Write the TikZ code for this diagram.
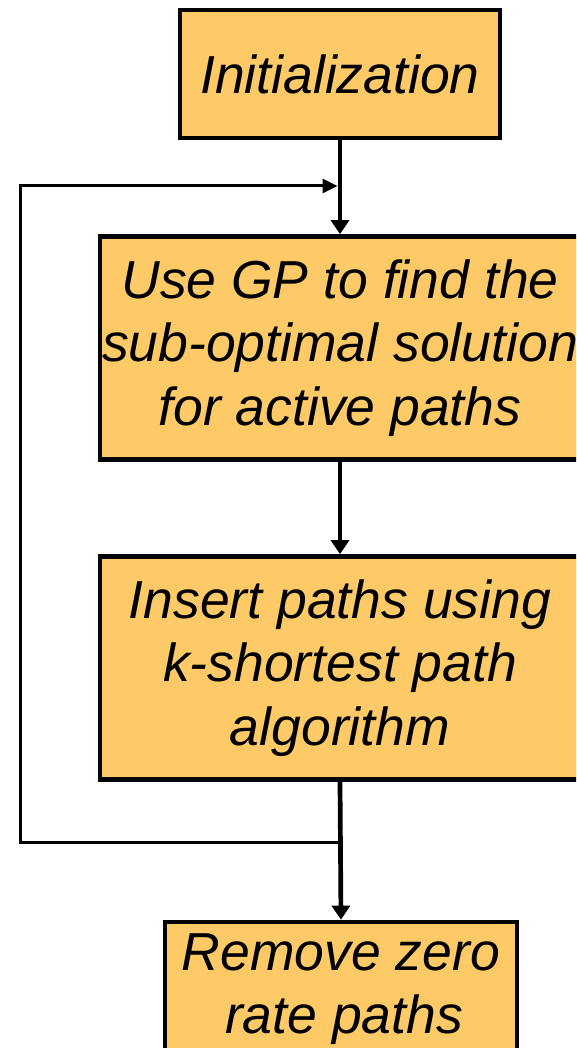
\documentclass[tikz,border=0pt]{standalone}
\usepackage{fontspec}
\setmainfont{Liberation Sans}
\usetikzlibrary{arrows.meta}
\definecolor{boxfill}{RGB}{254,202,104}
\tikzset{
  stepbox/.style={draw=black, line width=4.7pt, fill=boxfill, inner sep=0pt,
    align=center, font=\fontsize{53.5}{63.5}\selectfont\itshape},
  mainarrow/.style={line width=4.7pt, -{Triangle[length=14pt,width=18pt]}},
  backarrow/.style={line width=3pt, -{Triangle[length=15pt,width=14pt]}}
}
\begin{document}
\begin{tikzpicture}[x=1pt,y=-1pt]
\useasboundingbox (0,0) rectangle (576,1048);
\clip (0,0) rectangle (576,1048);
\fill[white] (0,0) rectangle (576,1048);
\node[stepbox, minimum width=320pt, minimum height=128pt] (init) at (340,74) {\raisebox{-2pt}{Initialization}};
\node[stepbox, minimum width=480pt, minimum height=223pt] (gp) at (340,348)
  {Use GP to find the\\sub-optimal solution\\for active paths};
\node[stepbox, minimum width=480pt, minimum height=223pt] (ins) at (340,668)
  {Insert paths using\\k-shortest path\\algorithm};
\node[stepbox, minimum width=352pt, minimum height=134pt] (rem) at (341,989)
  {Remove zero\\\hspace*{6pt}rate paths};
\coordinate (join) at (340,186);
\coordinate (split) at (340,842);
\coordinate (bl) at (20,842);
\coordinate (tl) at (20,186);
\draw[mainarrow] (init.south) -- (gp.north);
\draw[mainarrow] (gp.south) -- (ins.north);
\draw[mainarrow] (ins.south) -- (rem.north);
\draw[backarrow, line join=miter] (split) -- (bl) -- (tl) -- ([xshift=-2.4pt]join);
\end{tikzpicture}
\end{document}
